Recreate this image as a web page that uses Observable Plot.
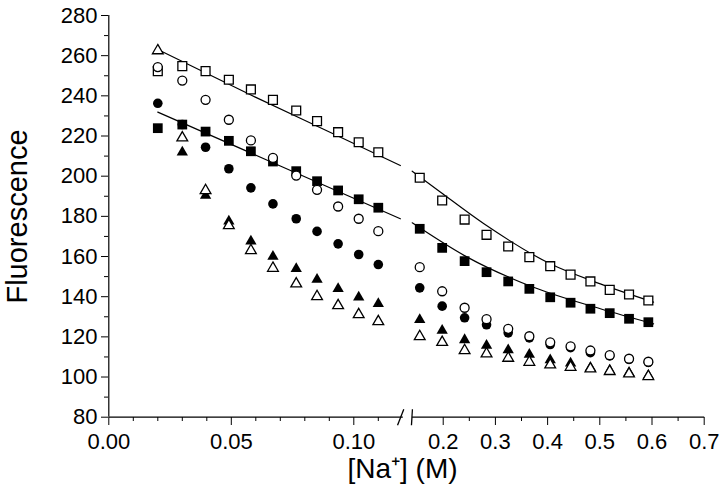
<!DOCTYPE html>
<html>
<head>
<meta charset="utf-8">
<script src="https://cdn.jsdelivr.net/npm/d3@7"></script>
<script src="https://cdn.jsdelivr.net/npm/@observablehq/plot@0.6"></script>
<style>
  html, body { margin: 0; padding: 0; background: white; }
</style>
</head>
<body>
<div id="chart"></div>
<script>
// ---- data ----
const naLow  = [0.020, 0.030, 0.0395, 0.049, 0.058, 0.067, 0.0765, 0.085, 0.0936, 0.102, 0.110];
const naHigh = [0.155, 0.198, 0.241, 0.283, 0.3245, 0.365, 0.405, 0.444, 0.482, 0.519, 0.556, 0.593];

const openSquare     = [252.3, 254.8, 252.3, 248.0, 243.2, 238.0, 232.7, 227.4, 221.9, 216.9, 211.9,
                        199.2, 187.9, 178.4, 170.8, 165.0, 159.7, 155.2, 151.0, 147.6, 143.4, 141.1, 138.1];
const filledSquare   = [223.9, 225.7, 222.2, 217.6, 212.4, 207.3, 202.5, 197.5, 192.9, 188.5, 184.3,
                        173.8, 164.3, 157.7, 152.2, 147.6, 143.9, 139.7, 137.0, 134.0, 131.8, 129.0, 127.3];
const openCircle     = [254.3, 247.6, 238.0, 228.1, 217.8, 209.1, 200.3, 193.2, 184.9, 178.8, 172.6,
                        154.7, 142.7, 134.5, 128.8, 124.0, 120.3, 117.3, 115.3, 113.2, 110.9, 109.1, 107.6];
const filledCircle   = [236.3, 225.7, 214.4, 203.7, 194.2, 186.2, 178.8, 172.5, 166.3, 161.0, 156.0,
                        144.4, 135.3, 129.5, 126.0, 122.0, 119.5, 116.2, 114.6, 112.1, 110.5, 108.8, 107.3];
const filledTriangle = [null, 211.9, 190.4, 177.6, 167.6, 160.0, 153.9, 148.6, 143.9, 139.7, 136.5,
                        128.5, 123.2, 118.5, 115.7, 113.5, 111.2, 108.5, 106.9, 104.6, 103.3, 102.1, 100.8];
const openTriangle   = [262.5, 219.1, 192.9, 175.4, 163.0, 154.2, 146.4, 140.1, 135.6, 131.1, 127.6,
                        120.2, 117.3, 113.2, 111.6, 109.4, 107.4, 106.1, 104.9, 104.1, 102.8, 101.6, 100.3];

// fitted curves
const fitUpperLowX  = [0.0218, 0.0578, 0.0946, 0.119];
const fitUpperLowY  = [262.0, 240.5, 219.4, 205.3];
const fitUpperHighX = [0.1406, 0.195, 0.278, 0.405, 0.501, 0.603];
const fitUpperHighY = [202.5, 192.0, 176.3, 156.4, 146.4, 137.3];
const fitLowerLowX  = [0.020, 0.070, 0.119];
const fitLowerLowY  = [231.9, 205.1, 178.8];
const fitLowerHighX = [0.1406, 0.246, 0.373, 0.501, 0.603];
const fitLowerHighY = [176.8, 159.7, 144.7, 134.0, 126.5];

// axis definitions
const axisBreak   = [0.12, 0.14];
const xMajorTicks = [0, 0.05, 0.10, 0.2, 0.3, 0.4, 0.5, 0.6, 0.7];
const xMajorLabels = ["0.00", "0.05", "0.10", "0.2", "0.3", "0.4", "0.5", "0.6", "0.7"];
const xMinorTicks = [0.01, 0.02, 0.03, 0.04, 0.06, 0.07, 0.08, 0.09, 0.11, 0.25, 0.35, 0.45, 0.55, 0.65];
const yMajorTicks = [80, 100, 120, 140, 160, 180, 200, 220, 240, 260, 280];
const yMinorTicks = [90, 110, 130, 150, 170, 190, 210, 230, 250, 270];

// ---- build tables ----
const naAll = naLow.concat(naHigh);
function series(values) {
  return naAll.map((x, i) => ({x, y: values[i]})).filter(d => d.y != null);
}
function curve(xs, ys) { return xs.map((x, i) => ({x, y: ys[i]})); }

const labelMap = new Map(xMajorTicks.map((t, i) => [t, xMajorLabels[i]]));

const xAxisSegments = [
  {x1: 0, x2: axisBreak[0], y: 80},
  {x1: axisBreak[1], x2: 0.7, y: 80}
];
// slashes for the break (slanted short strokes at each end of the gap)
const slashes = [
  {x1: axisBreak[0] - 0.00215, x2: axisBreak[0] + 0.00215, y1: 80 - 4.0, y2: 80 + 4.0},
  {x1: axisBreak[1] - 0.00100, x2: axisBreak[1] + 0.00100, y1: 80 - 4.0, y2: 80 + 4.0}
];

const font = "'Liberation Sans', Arial, Helvetica, sans-serif";
const lineOpts = {x: "x", y: "y", stroke: "black", strokeWidth: 1.2, curve: "monotone-x"};

const chart = Plot.plot({
  width: 720,
  height: 488,
  marginLeft: 108,
  marginTop: 15,
  marginRight: 16,
  marginBottom: 71,
  style: {fontFamily: font, fontSize: "22px", background: "white", color: "black", overflow: "visible"},
  x: {type: "linear", domain: [0, axisBreak[0], axisBreak[1], 0.7], range: [108.3, 402.3, 411.4, 703.7]},
  y: {domain: [80, 280], range: [416.7, 15]},
  marks: [
    // axes
    Plot.axisY(yMinorTicks, {tickSize: 4, tickFormat: () => "", label: null, stroke: "black"}),
    Plot.axisY(yMajorTicks, {tickSize: 7, tickPadding: 4, label: null, stroke: "black", fontSize: 22}),
    Plot.axisX(xMinorTicks, {tickSize: 4, tickFormat: () => "", label: null, stroke: "black"}),
    Plot.axisX(xMajorTicks, {tickSize: 8, tickPadding: 8, label: null, stroke: "black", fontSize: 22,
                             tickFormat: d => labelMap.get(d)}),
    Plot.ruleX([0], {y1: 80, y2: 280, stroke: "black", strokeWidth: 1.2}),
    Plot.link(xAxisSegments, {x1: "x1", x2: "x2", y1: "y", y2: "y", stroke: "black", strokeWidth: 1.2}),
    Plot.link(slashes, {x1: "x1", x2: "x2", y1: "y1", y2: "y2", stroke: "black", strokeWidth: 1.3}),

    // fitted lines
    Plot.line(curve(fitUpperLowX, fitUpperLowY), lineOpts),
    Plot.line(curve(fitUpperHighX, fitUpperHighY), lineOpts),
    Plot.line(curve(fitLowerLowX, fitLowerLowY), lineOpts),
    Plot.line(curve(fitLowerHighX, fitLowerHighY), lineOpts),

    // filled markers first
    Plot.dot(series(filledSquare), {x: "x", y: "y", symbol: "square", r: 5.5, fill: "black", stroke: "none"}),
    Plot.dot(series(filledCircle), {x: "x", y: "y", symbol: "circle", r: 4.8, fill: "black", stroke: "none"}),
    Plot.dot(series(filledTriangle), {x: "x", y: "y", symbol: "triangle", r: 4.2, fill: "black", stroke: "none"}),
    // open markers on top (white-filled)
    Plot.dot(series(openSquare), {x: "x", y: "y", symbol: "square", r: 5.0, fill: "white", stroke: "black", strokeWidth: 1.3}),
    Plot.dot(series(openCircle), {x: "x", y: "y", symbol: "circle", r: 4.5, fill: "white", stroke: "black", strokeWidth: 1.3}),
    Plot.dot(series(openTriangle), {x: "x", y: "y", symbol: "triangle", r: 4.0, fill: "white", stroke: "black", strokeWidth: 1.3}),

    // axis titles
    Plot.text(["Fluorescence"], {frameAnchor: "left", textAnchor: "middle", lineAnchor: "middle", rotate: -90, dx: -91, fontSize: 29, fill: "black"}),
    Plot.text(["[Na⁺] (M)"], {frameAnchor: "bottom", textAnchor: "middle", lineAnchor: "middle", dy: 52, dx: -4, fontSize: 28, fill: "black"})
  ]
});

document.getElementById("chart").appendChild(chart);
</script>
</body>
</html>
